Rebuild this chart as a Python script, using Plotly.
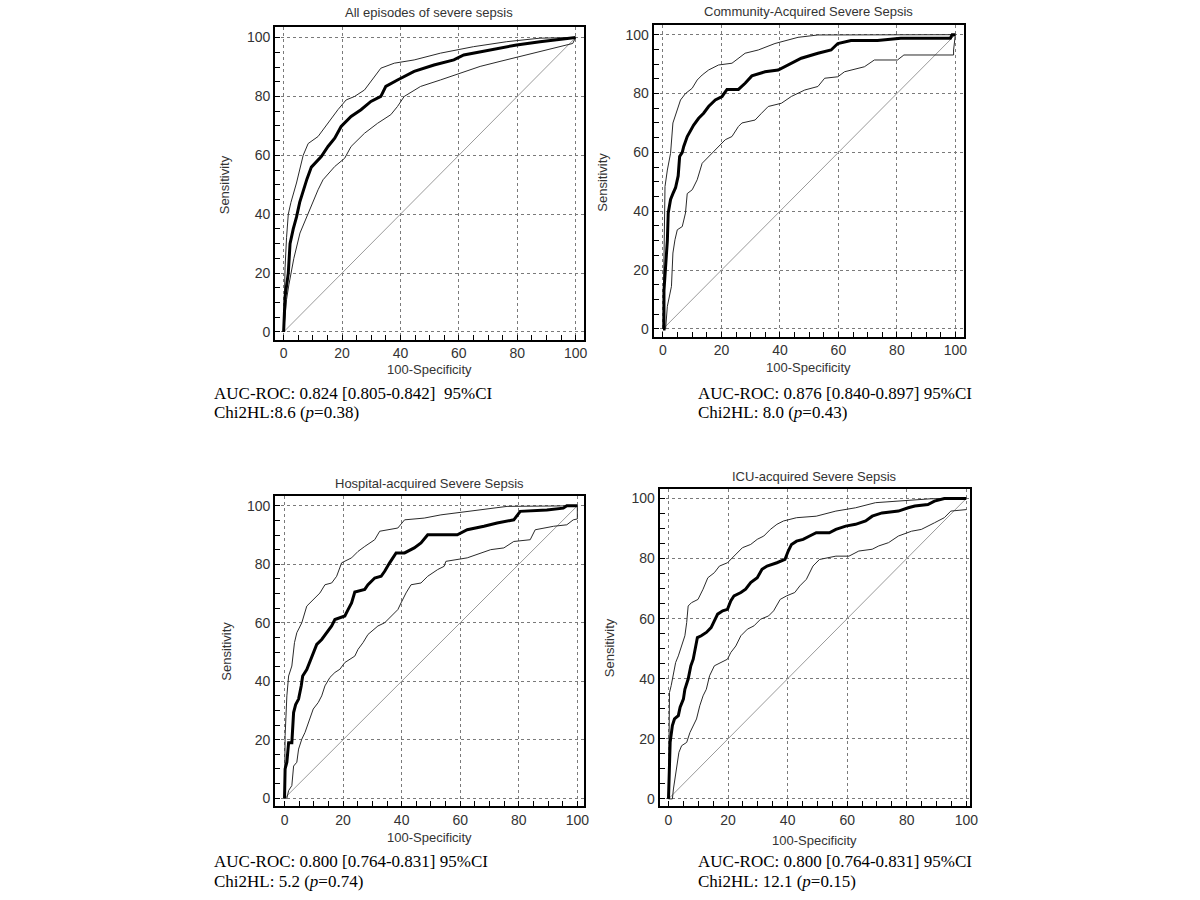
import plotly.graph_objects as go

W, H = 1200, 900

# ---------------- data ----------------
TITLES = ["All episodes of severe sepsis", "Community-Acquired Severe Sepsis",
          "Hospital-acquired Severe Sepsis", "ICU-acquired Severe Sepsis"]
AUC_TEXT = ["AUC-ROC: 0.824 [0.805-0.842] \u00a095%CI",
            "AUC-ROC: 0.876 [0.840-0.897] 95%CI",
            "AUC-ROC: 0.800 [0.764-0.831] 95%CI",
            "AUC-ROC: 0.800 [0.764-0.831] 95%CI"]
CHI_TEXT = ["Chi2HL:8.6 (<i>p</i>=0.38)", "Chi2HL: 8.0 (<i>p</i>=0.43)",
            "Chi2HL: 5.2 (<i>p</i>=0.74)", "Chi2HL: 12.1 (<i>p</i>=0.15)"]
X_TITLE = "100-Specificity"
Y_TITLE = "Sensitivity"
TICKS = [0, 20, 40, 60, 80, 100]
DIAG_X = [0, 100]
DIAG_Y = [0, 100]

# Panel 1: all episodes
p1_main_x = [0, 0.5, 1.6, 2.2, 3.3, 4.4, 5.5, 6.7, 8.0, 9.5, 11.0, 12.9, 15.2, 17.5, 19.7, 23.1, 26.5, 29.9, 33.3, 35.0, 39.0, 44.7, 51.5, 58.3, 61.7, 70.7, 79.8, 87.8, 94.6, 100]
p1_main_y = [0, 12, 20, 30, 35, 39, 44, 48, 52, 56, 57.5, 59.6, 63, 65.8, 69.8, 73.2, 75.5, 78.3, 80, 83.4, 85.6, 88.5, 90.7, 92.4, 94.1, 95.8, 97.5, 98.6, 99.4, 100]
p1_up_x = [0, 0.2, 0.5, 1.0, 1.6, 2.5, 4.4, 6.7, 8.4, 11.8, 15.2, 18.6, 21.4, 24.3, 27.7, 29.9, 33.3, 37.9, 44.7, 53.7, 65, 76.4, 87.8, 100]
p1_up_y = [0, 15, 22, 32, 40, 44, 50.6, 60, 64, 66.4, 71, 75.5, 78.8, 80, 82.2, 85, 89.6, 91.3, 92.4, 94.7, 96.9, 98.6, 99.8, 100]
p1_lo_x = [0, 0.5, 1.0, 1.8, 2.5, 3.5, 5.6, 8.4, 11.8, 13.5, 17.5, 20.9, 23.1, 27.7, 32.2, 36.7, 39.0, 41.3, 46.9, 53.7, 60.5, 67.3, 74.1, 81.0, 87.8, 94.6, 99.0, 100]
p1_lo_y = [0, 5, 11, 16, 20, 25, 33.6, 40.4, 48.3, 51.7, 56.2, 59, 63, 67.5, 70.9, 73.8, 76.6, 80, 83.4, 85.6, 87.9, 90.2, 91.9, 93.6, 95.2, 96.9, 98, 100]

# Panel 2: community-acquired
p2_main_x = [0, 0.34, 0.34, 0.9, 1.5, 1.8, 2.6, 3.4, 4.3, 5.2, 5.7, 6.6, 7.1, 8.3, 9.4, 10.5, 12.2, 13.9, 15.6, 17.9, 20.2, 21.9, 25.8, 28.1, 30.4, 34.9, 39.4, 43.9, 47.3, 53.0, 57.5, 59.8, 64.3, 73.4, 81.3, 98.3, 98.9, 100]
p2_main_y = [0, 0, 13, 20, 30, 39.4, 44, 46, 48, 52, 58.6, 60, 62, 65.4, 67.6, 69.3, 71.6, 73.3, 75.6, 77.8, 79, 81.4, 81.4, 83.5, 86, 87.4, 88, 90.3, 92, 93.7, 94.8, 97, 98, 98, 98.8, 98.8, 100, 100]
p2_up_x = [0, 0.34, 0.7, 1.5, 2.6, 3.4, 4.9, 6.0, 7.7, 10.0, 11.7, 13.4, 15.6, 19.0, 23.6, 28.1, 32.6, 38.3, 46.2, 53.0, 100]
p2_up_y = [0, 32.6, 48.4, 54, 59.7, 70, 74.4, 77.8, 80, 81.8, 84.6, 86.3, 88, 89.7, 90.3, 93.7, 94.8, 97, 99.1, 99.9, 100]
p2_lo_x = [0, 0.9, 1.5, 2.3, 2.9, 3.4, 4.1, 4.9, 6.6, 7.7, 8.3, 10.0, 11.7, 13.4, 15.6, 19.0, 21.3, 23.6, 25.8, 27.0, 31.5, 33.7, 36.0, 40.5, 43.9, 48.5, 53.0, 55.3, 59.8, 62.1, 68.9, 72.3, 80.2, 82.4, 99.4, 99.4, 100]
p2_lo_y = [0, 0, 7.7, 11, 14.5, 25.8, 30.3, 33.7, 34.8, 39.4, 46, 47.3, 50.7, 56.3, 58.6, 62, 64.3, 65.4, 68.8, 70, 71, 73.3, 75.6, 76.7, 79, 81.2, 82.4, 85.2, 85.7, 87.4, 89.1, 91.4, 91.4, 93.1, 93.1, 94.8, 100]

# Panel 3: hospital-acquired
p3_main_x = [0, 0.2, 0.8, 1.4, 2.5, 3.1, 3.8, 4.8, 5.7, 6.2, 7.6, 8.7, 10.2, 11.0, 12.7, 14.4, 16.1, 17.2, 18.9, 20.6, 21.7, 22.9, 24.0, 27.4, 28.5, 30.8, 33.0, 34.2, 35.9, 38.1, 41.0, 44.3, 46.6, 48.9, 59.0, 62.4, 68.1, 72.6, 78.3, 80.5, 89.6, 95.2, 96.4, 100]
p3_main_y = [0, 10, 12.3, 19, 19, 29.3, 32, 33.9, 38.4, 41.8, 44, 46.9, 50.9, 52.6, 54.3, 56.6, 58.9, 61.1, 61.7, 62.3, 64.5, 66.8, 70.5, 71.4, 73, 75.3, 75.9, 77.6, 80.5, 83.9, 83.9, 85.6, 87.3, 90.1, 90.1, 91.8, 93, 94.1, 95.2, 98.1, 98.6, 99.2, 100, 100]
p3_up_x = [0, 0.2, 0.8, 1.4, 2.5, 3.4, 4.2, 5.9, 7.6, 9.8, 12.1, 13.8, 16.1, 17.8, 19.5, 22.9, 25.1, 27.4, 30.8, 32.5, 35.9, 38.7, 41.0, 47.7, 53.4, 62.4, 76.0, 100]
p3_up_y = [0, 21.4, 35, 41.8, 45.2, 53.2, 56.6, 60, 65.7, 68, 70.2, 73, 73.6, 75.9, 80.5, 82.2, 84.4, 86.1, 88.4, 91.3, 91.8, 92.4, 95.2, 95.8, 96.9, 98.1, 99.8, 100]
p3_lo_x = [0, 0.8, 1.4, 2.5, 3.1, 4.2, 4.8, 5.9, 7.0, 8.1, 9.8, 11.5, 12.7, 13.8, 15.5, 17.2, 18.9, 20.6, 24.0, 25.1, 26.8, 28.5, 31.9, 34.2, 36.4, 38.7, 39.8, 41.5, 43.2, 46.6, 48.9, 52.3, 54.5, 55.1, 62.4, 65.8, 70.4, 74.9, 78.3, 83.9, 85.6, 91.9, 96.4, 98.6, 100, 100]
p3_lo_y = [0, 0, 2.6, 4.3, 11, 12.3, 16.8, 20.2, 22.5, 25.9, 30.5, 32.7, 35, 38.4, 41.3, 43, 44.1, 46.4, 48.6, 50.9, 53.2, 56, 58.9, 60, 62.3, 64.5, 66.8, 70.2, 73, 73.6, 75.9, 78.2, 79.3, 81, 82.2, 83.3, 85, 85.6, 87.8, 88.4, 91.8, 93, 93.5, 95.2, 95.5, 100]

# Panel 4: ICU-acquired
p4_main_x = [0, 0.2, 0.55, 1.3, 2.0, 3.3, 3.9, 5.0, 5.5, 6.6, 7.5, 8.3, 9.0, 9.7, 11.0, 12.7, 14.3, 15.4, 16.5, 18.2, 19.8, 20.9, 22.0, 24.3, 25.9, 27.6, 29.8, 31.4, 33.1, 36.4, 39.1, 40.2, 41.3, 43.0, 45.2, 47.4, 49.6, 54.0, 56.2, 59.5, 62.8, 66.2, 68.4, 71.7, 77.2, 80.5, 82.7, 87.1, 89.3, 92.6, 100]
p4_main_y = [0, 8.9, 18.8, 24.4, 26.6, 27.7, 30.5, 33.2, 36.5, 39.9, 44.3, 46.5, 49.8, 53.7, 54.3, 55.4, 57, 59.2, 61.5, 62.6, 63.1, 65.9, 67.6, 68.7, 69.8, 72, 73.6, 76.4, 77.5, 78.6, 79.7, 82.5, 84.7, 85.8, 86.4, 87.5, 88.6, 88.6, 89.7, 90.8, 91.4, 92.5, 94.1, 95.2, 95.8, 96.9, 97.5, 98, 99.1, 100, 100]
p4_up_x = [0, 0.33, 0.9, 1.65, 2.4, 3.3, 4.4, 5.5, 6.1, 6.6, 7.7, 9.9, 11.6, 13.2, 15.4, 17.1, 19.8, 22.0, 24.8, 27.6, 29.8, 32.0, 34.2, 36.4, 38.6, 43.0, 49.6, 56.2, 62.8, 69.5, 77.2, 88.2, 100]
p4_up_y = [0, 35.4, 37.7, 41, 45.4, 47.6, 50.9, 54.3, 58.7, 64.2, 65.3, 66.4, 69.8, 73.6, 75.3, 77.5, 78.6, 80.8, 83.6, 84.7, 86.4, 87.5, 89.7, 91.4, 92.5, 93.6, 94.1, 95.8, 96.9, 98.6, 99.1, 99.9, 100]
p4_lo_x = [0, 1.3, 1.65, 2.2, 2.8, 3.5, 4.4, 6.1, 7.2, 8.3, 9.4, 10.5, 11.6, 12.7, 13.8, 15.4, 17.6, 19.8, 20.9, 22.6, 24.3, 26.5, 28.7, 30.9, 33.6, 35.3, 37.5, 39.7, 42.4, 44.1, 46.3, 47.4, 48.5, 50.7, 56.2, 60.6, 63.9, 68.4, 70.6, 73.9, 77.2, 81.6, 84.9, 89.3, 92.6, 94.8, 100]
p4_lo_y = [0, 0, 3.3, 6.6, 11, 15.5, 17.7, 18.8, 22.1, 24.4, 26.6, 31, 34.3, 36.5, 41, 44.3, 45.4, 46.5, 48.7, 50.9, 54.3, 56.5, 57.6, 59.8, 60.9, 62.6, 66.4, 67.6, 68.7, 70.9, 73.1, 75.3, 77.5, 79.7, 80.8, 80.8, 82.5, 83.1, 84.2, 85.3, 87.5, 89.1, 89.7, 91.9, 93.6, 95.8, 96.3]

SERIES = [
    (p1_main_x, p1_main_y, p1_up_x, p1_up_y, p1_lo_x, p1_lo_y),
    (p2_main_x, p2_main_y, p2_up_x, p2_up_y, p2_lo_x, p2_lo_y),
    (p3_main_x, p3_main_y, p3_up_x, p3_up_y, p3_lo_x, p3_lo_y),
    (p4_main_x, p4_main_y, p4_up_x, p4_up_y, p4_lo_x, p4_lo_y),
]

# ---------------- layout (pixel boxes of each plot frame) ----------------
BOXES = [(277, 588, 27, 340), (658, 970, 25, 337), (277, 588, 497, 807), (664, 977, 490, 807)]
XRANGES = [(-2.9, 102.9), (-3.2, 102.8), (-3.2, 102.3), (-3.0, 101.4)]
YRANGES = [(-2.6, 103.6), (-2.6, 103.3), (-2.7, 103.2), (-2.4, 103.0)]
TITLE_POS = [(432, 13), (814, 12), (432, 484), (820, 477)]
XT_POS = [(432, 370), (814, 368), (432, 838), (820, 841)]
YT_POS = [(226, 185), (607, 182), (228, 652), (613, 648)]
TEXT_POS = [(213, 394, 413), (701, 394, 413), (213, 862, 882), (701, 862, 882)]

SANS = "Liberation Sans, Arial, sans-serif"
SERIF = "Liberation Serif, Times New Roman, serif"

fig = go.Figure()
annotations = []

for i in range(4):
    n = "" if i == 0 else str(i + 1)
    xa, ya = "x" + n, "y" + n
    mx, my, ux, uy, lx, ly = SERIES[i]
    fig.add_trace(go.Scatter(x=DIAG_X, y=DIAG_Y, mode="lines", xaxis=xa, yaxis=ya,
                             line=dict(color="#9a9a9a", width=1), showlegend=False, hoverinfo="skip"))
    fig.add_trace(go.Scatter(x=ux, y=uy, mode="lines", xaxis=xa, yaxis=ya,
                             line=dict(color="#2a2a2a", width=1), showlegend=False))
    fig.add_trace(go.Scatter(x=lx, y=ly, mode="lines", xaxis=xa, yaxis=ya,
                             line=dict(color="#2a2a2a", width=1), showlegend=False))
    fig.add_trace(go.Scatter(x=mx, y=my, mode="lines", xaxis=xa, yaxis=ya,
                             line=dict(color="#000000", width=3), showlegend=False))

    l, r, t, b = BOXES[i]
    common = dict(
        showline=True, linecolor="black", linewidth=2, mirror=True,
        showgrid=True, gridcolor="#7a7a7a", gridwidth=1, griddash="dot",
        zeroline=False, tickmode="array", tickvals=TICKS,
        ticks="inside", ticklen=5, tickcolor="black", tickwidth=1,
        minor=dict(dtick=5, tick0=0, ticks="inside", ticklen=5, tickcolor="black", showgrid=False),
        tickfont=dict(family=SANS, size=14, color="#333333"),
        fixedrange=True,
    )
    fig.update_layout(**{
        "xaxis" + n: dict(domain=[l / W, r / W], range=list(XRANGES[i]), anchor=ya, **common),
        "yaxis" + n: dict(domain=[1 - b / H, 1 - t / H], range=list(YRANGES[i]), anchor=xa, **common),
    })

    tx, ty = TITLE_POS[i]
    annotations.append(dict(text=TITLES[i], x=tx / W, y=1 - ty / H, xref="paper", yref="paper",
                            xanchor="center", yanchor="middle", showarrow=False,
                            font=dict(family=SANS, size=13, color="#333333")))
    ax_, ay_ = XT_POS[i]
    annotations.append(dict(text=X_TITLE, x=ax_ / W, y=1 - ay_ / H, xref="paper", yref="paper",
                            xanchor="center", yanchor="middle", showarrow=False,
                            font=dict(family=SANS, size=13, color="#333333")))
    yx_, yy_ = YT_POS[i]
    annotations.append(dict(text=Y_TITLE, x=yx_ / W, y=1 - yy_ / H, xref="paper", yref="paper",
                            xanchor="center", yanchor="middle", showarrow=False, textangle=-90,
                            font=dict(family=SANS, size=13, color="#333333")))
    px_, py1, py2 = TEXT_POS[i]
    annotations.append(dict(text=AUC_TEXT[i], x=px_ / W, y=1 - py1 / H, xref="paper", yref="paper",
                            xanchor="left", yanchor="middle", showarrow=False,
                            font=dict(family=SERIF, size=17, color="#000000")))
    annotations.append(dict(text=CHI_TEXT[i], x=px_ / W, y=1 - py2 / H, xref="paper", yref="paper",
                            xanchor="left", yanchor="middle", showarrow=False,
                            font=dict(family=SERIF, size=17, color="#000000")))

fig.update_layout(width=W, height=H, margin=dict(l=0, r=0, t=0, b=0),
                  paper_bgcolor="white", plot_bgcolor="white",
                  annotations=annotations, showlegend=False)

fig.write_html("out.html", config={"displayModeBar": False},
               post_script="document.body.style.margin='0';document.body.style.overflow='hidden';")
